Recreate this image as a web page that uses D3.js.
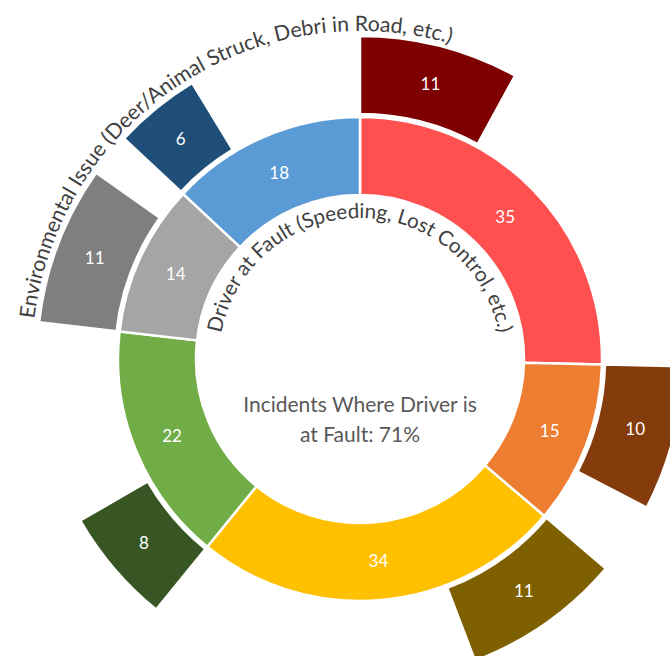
<!DOCTYPE html>
<html>
<head>
<meta charset="utf-8">
<script src="https://cdn.jsdelivr.net/npm/d3@7"></script>
<style>
  html, body { margin: 0; padding: 0; background: #fff; }
  svg { display: block; font-family: Lato, "Open Sans", sans-serif; }
</style>
</head>
<body>
<svg id="chart" width="670" height="656"></svg>
<script>
// ---- data ----
const innerCategories = ["Red", "Orange", "Yellow", "Green", "Gray", "Blue"];
const innerValues = [35, 15, 34, 22, 14, 18];
const innerColors = ["#FF5050", "#ED7D31", "#FFC000", "#70AD47", "#A5A5A5", "#5B9BD5"];
const outerValues = [11, 10, 11, 8, 11, 6];
const outerColors = ["#7F0000", "#843C0C", "#7F6000", "#375623", "#7F7F7F", "#1F4E79"];
const innerLabel = "Driver at Fault (Speeding, Lost Control, etc.)";
const outerLabel = "Environmental Issue (Deer/Animal Struck, Debri in Road, etc.)";
const centerLines = ["Incidents Where Driver is", "at Fault: 71%"];

// ---- layout ----
const cx = 360, cy = 359;
const rHole = 164, rRing = 242, rOuterIn = 245, rOuterOut = 323;

const svg = d3.select("#chart");
const g = svg.append("g").attr("transform", `translate(${cx},${cy})`);

const total = d3.sum(innerValues);
const angle = d3.scaleLinear().domain([0, total]).range([0, 2 * Math.PI]);

const pie = d3.pie().sort(null).value(d => d).startAngle(0).endAngle(2 * Math.PI);
const innerArcs = pie(innerValues);

const innerArc = d3.arc().innerRadius(rHole).outerRadius(rRing);
const outerArc = d3.arc().innerRadius(rOuterIn).outerRadius(rOuterOut);

const outerArcs = outerValues.map((v, i) => ({
  value: v,
  startAngle: innerArcs[i].startAngle,
  endAngle: innerArcs[i].startAngle + angle(v)
}));

g.selectAll("path.inner").data(innerArcs).join("path")
  .attr("class", "inner")
  .attr("d", innerArc)
  .attr("fill", (d, i) => innerColors[i])
  .attr("stroke", "#fff").attr("stroke-width", 2.5);

g.selectAll("path.outer").data(outerArcs).join("path")
  .attr("class", "outer")
  .attr("d", outerArc)
  .attr("fill", (d, i) => outerColors[i])
  .attr("stroke", "#fff").attr("stroke-width", 2.5);

g.selectAll("text.ilab").data(innerArcs).join("text")
  .attr("class", "ilab")
  .attr("transform", d => `translate(${innerArc.centroid(d)})`)
  .attr("text-anchor", "middle").attr("dy", "0.35em")
  .attr("fill", "#fff").attr("font-size", 17)
  .text(d => d.value);

g.selectAll("text.olab").data(outerArcs).join("text")
  .attr("class", "olab")
  .attr("transform", d => `translate(${outerArc.centroid(d)})`)
  .attr("text-anchor", "middle").attr("dy", "0.35em")
  .attr("fill", "#fff").attr("font-size", 17)
  .text(d => d.value);

// circular text paths
function circlePath(r, centerDeg) {
  const a0 = (centerDeg - 180) * Math.PI / 180;
  const x0 = r * Math.sin(a0), y0 = -r * Math.cos(a0);
  const x1 = -x0, y1 = -y0;
  return `M${x0},${y0} A${r},${r} 0 1 1 ${x1},${y1} A${r},${r} 0 1 1 ${x0},${y0}`;
}
const defs = svg.append("defs");
defs.append("path").attr("id", "innerTP").attr("d", circlePath(141, 0));
defs.append("path").attr("id", "outerTP").attr("d", circlePath(328, 326.5));

g.append("text").attr("fill", "#404040").attr("font-size", 20.6)
  .append("textPath").attr("href", "#innerTP")
  .attr("startOffset", "50%").attr("text-anchor", "middle")
  .text(innerLabel);
g.append("text").attr("fill", "#404040").attr("font-size", 21.2)
  .append("textPath").attr("href", "#outerTP")
  .attr("startOffset", "50%").attr("text-anchor", "middle")
  .text(outerLabel);

g.selectAll("text.center").data(centerLines).join("text")
  .attr("class", "center")
  .attr("text-anchor", "middle")
  .attr("y", (d, i) => 53 + i * 30)
  .attr("fill", "#595959").attr("font-size", 21)
  .text(d => d);
</script>
</body>
</html>
